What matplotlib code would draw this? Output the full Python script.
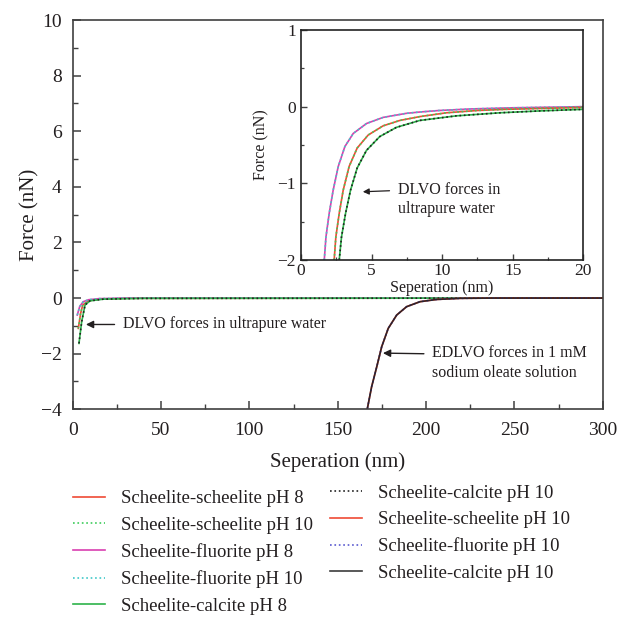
import matplotlib
matplotlib.use("Agg")
import matplotlib.pyplot as plt
from matplotlib.ticker import MultipleLocator

plt.rcParams['font.family'] = ['Liberation Serif', 'DejaVu Serif']
TXT = '#231f20'
SP = '#404040'

# ---- main plot data: DLVO in ultrapure water ----
x_main_fluorite = [2.6, 4.0, 6.0, 9.0, 15, 30, 300]
main_fluorite = [-0.61, -0.30, -0.13, -0.06, -0.02, 0, 0]
x_main_scheelite = [3.2, 4.5, 5.7, 8.9, 15, 30, 300]
main_scheelite = [-1.09, -0.55, -0.25, -0.10, -0.04, -0.01, 0]
x_main_calcite = [3.57, 5.1, 7.0, 9.8, 17.3, 40, 300]
main_calcite = [-1.63, -0.85, -0.25, -0.10, -0.04, -0.01, 0]

# ---- main plot data: EDLVO in 1 mM sodium oleate ----
x_edlvo = [166.8, 169.2, 172.1, 174.9, 178.6, 183.4, 189.0, 196.6, 206.0, 219.2, 240, 300]
edlvo = [-3.97, -3.19, -2.47, -1.75, -1.09, -0.61, -0.31, -0.13, -0.05, -0.01, 0, 0]

# ---- inset data ----
x_in_fluorite = [1.65, 1.77, 2.0, 2.28, 2.64, 3.11, 3.70, 4.64, 5.82, 7.47, 8.41, 9.8, 12, 15, 20]
in_fluorite = [-2.0, -1.70, -1.39, -1.09, -0.78, -0.52, -0.35, -0.22, -0.14, -0.087, -0.07,
               -0.05, -0.03, -0.015, 0.0]
x_in_scheelite = [2.35, 2.47, 2.71, 2.99, 3.41, 3.98, 4.76, 5.82, 7.0, 8.41, 10.3, 12.5, 14.5, 20]
in_scheelite = [-2.0, -1.70, -1.39, -1.09, -0.78, -0.54, -0.37, -0.25, -0.18, -0.13, -0.08,
                -0.05, -0.035, -0.01]
x_in_calcite = [2.71, 2.87, 3.16, 3.51, 3.98, 4.64, 5.58, 6.76, 8.41, 11, 14.1, 17, 20]
in_calcite = [-2.0, -1.70, -1.39, -1.09, -0.80, -0.57, -0.39, -0.27, -0.18, -0.12, -0.08,
              -0.055, -0.035]

labels_left = ['Scheelite-scheelite pH 8', 'Scheelite-scheelite pH 10',
               'Scheelite-fluorite pH 8', 'Scheelite-fluorite pH 10',
               'Scheelite-calcite pH 8']
labels_right = ['Scheelite-calcite pH 10', 'Scheelite-scheelite pH 10',
                'Scheelite-fluorite pH 10', 'Scheelite-calcite pH 10']

C_RED = '#ef4a35'
C_GREEN_DOT = '#3ccc5a'
C_PINK = '#d93fb0'
C_CYAN = '#40c8c8'
C_GREEN = '#2db34a'
C_BLACK_DOT = '#222222'
C_BLUE_DOT = '#5a5ad0'
C_BLACK = '#1a1a1a'

fig = plt.figure(figsize=(6.18, 6.22), dpi=100)
ax = fig.add_axes([0.1176, 0.342, 0.8577, 0.6258])

lw = 1.2
h = []
h.append(ax.plot(x_main_scheelite, main_scheelite, color=C_RED, lw=lw, ls='-')[0])
h.append(ax.plot(x_main_scheelite, main_scheelite, color=C_GREEN_DOT, lw=lw, ls=':')[0])
h.append(ax.plot(x_main_fluorite, main_fluorite, color=C_PINK, lw=lw, ls='-')[0])
h.append(ax.plot(x_main_fluorite, main_fluorite, color=C_CYAN, lw=lw, ls=':')[0])
h.append(ax.plot(x_main_calcite, main_calcite, color=C_GREEN, lw=lw, ls='-')[0])
h2 = []
h2.append(ax.plot(x_main_calcite, main_calcite, color=C_BLACK_DOT, lw=lw, ls=':')[0])
h2.append(ax.plot(x_edlvo, edlvo, color=C_RED, lw=lw, ls='-')[0])
h2.append(ax.plot(x_edlvo, edlvo, color=C_BLUE_DOT, lw=lw, ls=':')[0])
h2.append(ax.plot(x_edlvo, edlvo, color=C_BLACK, lw=lw, ls='-', alpha=0.85)[0])

ax.set_xlim(0, 300)
ax.set_ylim(-4, 10)
ax.xaxis.set_major_locator(MultipleLocator(50))
ax.xaxis.set_minor_locator(MultipleLocator(25))
ax.yaxis.set_major_locator(MultipleLocator(2))
ax.yaxis.set_minor_locator(MultipleLocator(1))
ax.tick_params(which='both', direction='in', colors=SP, labelcolor=TXT, labelsize=14,
               top=False, right=False)
ax.tick_params(which='major', length=6, width=1.1)
ax.tick_params(which='minor', length=3.5, width=1.0)
ax.tick_params(axis='y', pad=8)
ax.tick_params(axis='x', pad=9)
for s in ax.spines.values():
    s.set_color(SP)
    s.set_linewidth(1.2)
ax.set_xlabel('Seperation (nm)', fontsize=15, color=TXT, labelpad=10)
ax.set_ylabel('Force (nN)', fontsize=15, color=TXT, labelpad=1)
ax.set_yticklabels([('\u2212%d' % -v if v < 0 else '%d' % v) for v in ax.get_yticks()])

ax.annotate('DLVO forces in ultrapure water', xy=(7.5, -0.95), xytext=(28.4, -0.95),
            fontsize=11.5, color=TXT, va='center', ha='left',
            arrowprops=dict(arrowstyle='-|>', color=TXT, lw=1.0, mutation_scale=11,
                            shrinkA=4, shrinkB=0))
ax.annotate('EDLVO forces in 1 mM\nsodium oleate solution', xy=(175.6, -1.98),
            xytext=(203.5, -1.70), fontsize=11.5, color=TXT, va='top', ha='left',
            linespacing=1.3,
            arrowprops=dict(arrowstyle='-|>', color=TXT, lw=1.0, mutation_scale=11,
                            shrinkA=4, shrinkB=0, relpos=(0, 0.76)))

# ---- inset ----
ins = fig.add_axes([0.487, 0.582, 0.457, 0.3698])
ins.plot(x_in_fluorite, in_fluorite, color=C_PINK, lw=lw, ls='-')
ins.plot(x_in_fluorite, in_fluorite, color=C_CYAN, lw=lw, ls=':')
ins.plot(x_in_scheelite, in_scheelite, color=C_RED, lw=lw, ls='-')
ins.plot(x_in_scheelite, in_scheelite, color=C_GREEN_DOT, lw=lw, ls=':')
ins.plot(x_in_calcite, in_calcite, color=C_GREEN, lw=lw, ls='-')
ins.plot(x_in_calcite, in_calcite, color=C_BLACK_DOT, lw=lw, ls=':')
ins.set_xlim(0, 20)
ins.set_ylim(-2, 1)
ins.xaxis.set_major_locator(MultipleLocator(5))
ins.xaxis.set_minor_locator(MultipleLocator(2.5))
ins.yaxis.set_major_locator(MultipleLocator(1))
ins.yaxis.set_minor_locator(MultipleLocator(0.5))
ins.tick_params(which='both', direction='in', colors=SP, labelcolor=TXT, labelsize=12.5,
                top=False, right=False)
ins.tick_params(which='major', length=4, width=1.0)
ins.tick_params(which='minor', length=2.5, width=0.9)
ins.tick_params(axis='x', pad=2)
for s in ins.spines.values():
    s.set_color('#222222')
    s.set_linewidth(1.2)
ins.set_yticklabels([('\u2212%d' % -v if v < 0 else '%d' % v) for v in ins.get_yticks()])
ins.set_xlabel('Seperation (nm)', fontsize=11.5, color=TXT, labelpad=1)
ins.set_ylabel('Force (nN)', fontsize=11.5, color=TXT, labelpad=6)
ins.annotate('DLVO forces in\nultrapure water', xy=(4.38, -1.11), xytext=(6.86, -0.985),
             fontsize=11.5, color=TXT, va='top', ha='left', linespacing=1.2,
             arrowprops=dict(arrowstyle='-|>', color=TXT, lw=0.9, mutation_scale=9,
                             shrinkA=4, shrinkB=0, relpos=(0, 0.76)))

# ---- legends ----
leg_kw = dict(frameon=False, fontsize=13.5, handlelength=1.7, handletextpad=0.85,
              borderpad=0, borderaxespad=0, labelspacing=0.5, labelcolor=TXT)
fig.legend(h, labels_left, loc='upper left', bbox_to_anchor=(0.118, 0.212), **leg_kw)
fig.legend(h2, labels_right, loc='upper left', bbox_to_anchor=(0.534, 0.221), **leg_kw)

fig.savefig('out.png', dpi=100)
